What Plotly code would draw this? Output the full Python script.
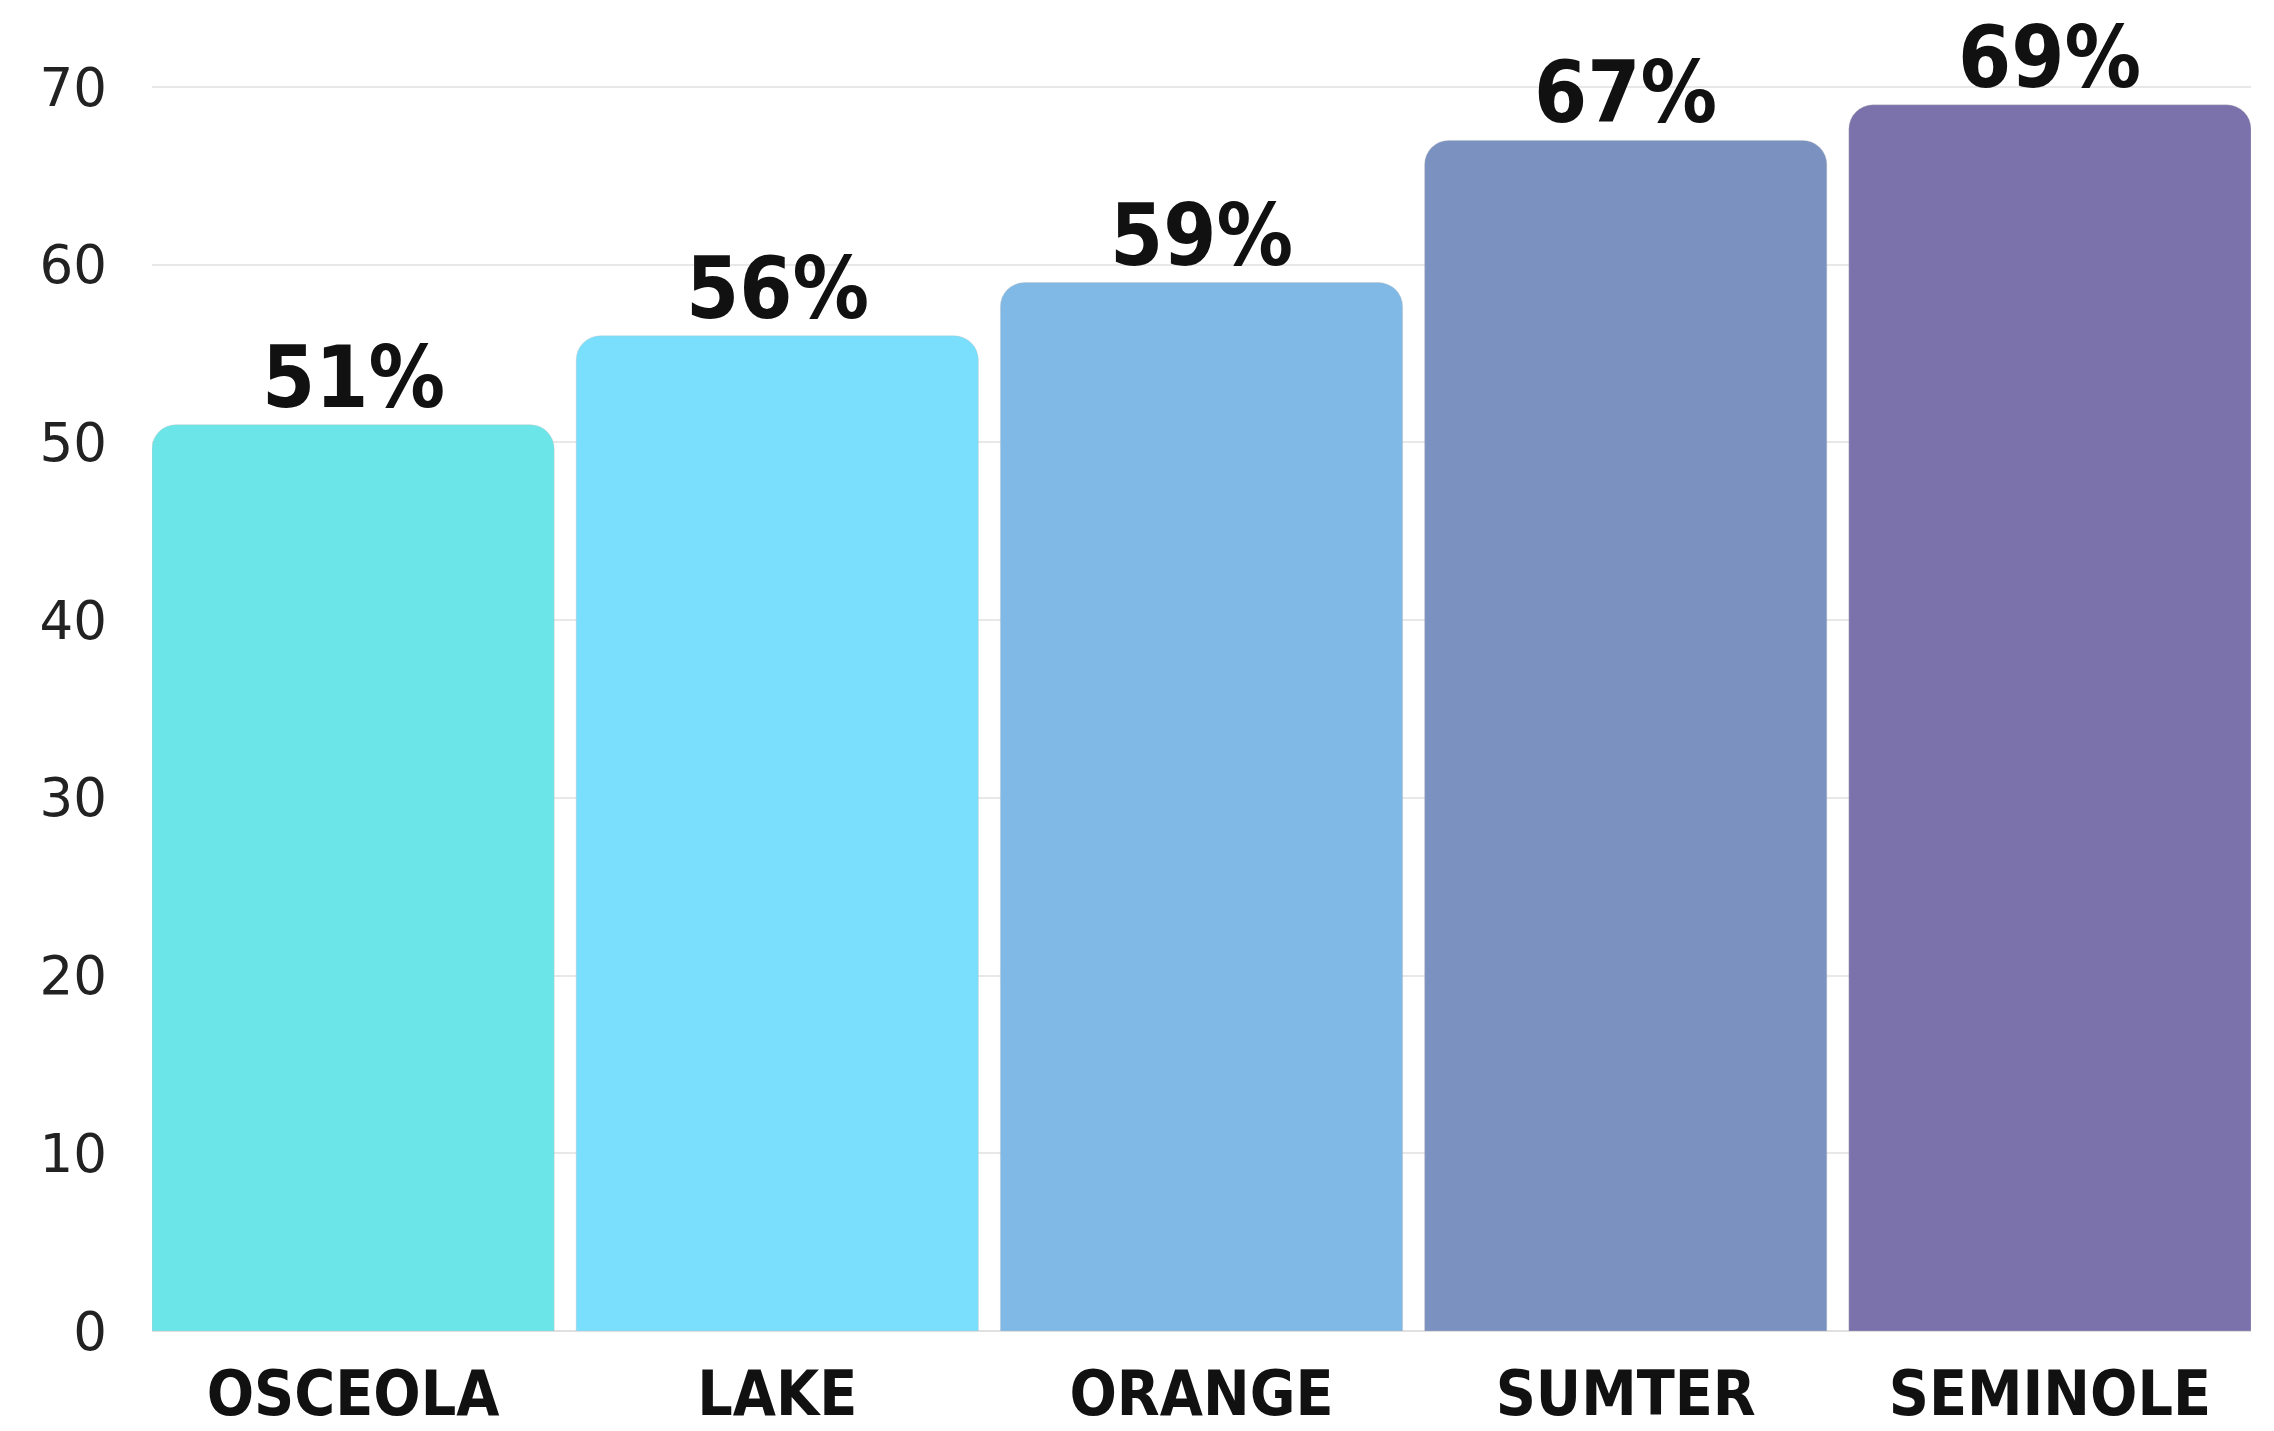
import plotly.graph_objects as go

counties = ["OSCEOLA", "LAKE", "ORANGE", "SUMTER", "SEMINOLE"]
values = [51, 56, 59, 67, 69]
labels = ["51%", "56%", "59%", "67%", "69%"]
colors = ["#6CE5E8", "#7ADFFD", "#80B9E5", "#7B92C1", "#7B71AB"]
y_ticks = [0, 10, 20, 30, 40, 50, 60, 70]

# page body has an 8px margin, so the figure is offset by 8px in the window
W, H = 2258, 1423
bargap = 0.052

fig = go.Figure()
fig.add_trace(go.Bar(
    x=list(range(len(counties))),
    y=values,
    marker=dict(color=colors, cornerradius=24,
                line=dict(color="rgba(190,190,190,0.35)", width=1)),
    hoverinfo="skip",
))

for i, (v, t) in enumerate(zip(values, labels)):
    fig.add_annotation(
        x=i, y=v, text=t, showarrow=False, yanchor="bottom", yshift=-3,
        borderpad=0,
        font=dict(family="DejaVu Sans Condensed, DejaVu Sans", size=85,
                  color="#111111", weight="bold"),
    )

fig.update_layout(
    width=W, height=H,
    margin=dict(l=144, r=15, t=8, b=100),
    plot_bgcolor="white", paper_bgcolor="white",
    bargap=bargap, showlegend=False,
    xaxis=dict(
        range=[-0.5 + bargap / 2, len(counties) - 0.5 - bargap / 2],
        tickvals=list(range(len(counties))), ticktext=counties,
        showgrid=False, zeroline=False, showline=False, ticks="",
        ticklabelstandoff=21, automargin=False,
        tickfont=dict(family="DejaVu Sans Condensed, DejaVu Sans", size=62,
                      color="#111111", weight="bold"),
    ),
    yaxis=dict(
        range=[0, 74], tickvals=y_ticks,
        showgrid=True, gridcolor="#e8e8e8", gridwidth=2,
        zeroline=True, zerolinecolor="#e0e0e0", zerolinewidth=2,
        showline=False, ticks="", ticklabelstandoff=44, automargin=False,
        tickfont=dict(family="DejaVu Sans", size=53, color="#222222"),
    ),
)

fig.write_html("out.html")
